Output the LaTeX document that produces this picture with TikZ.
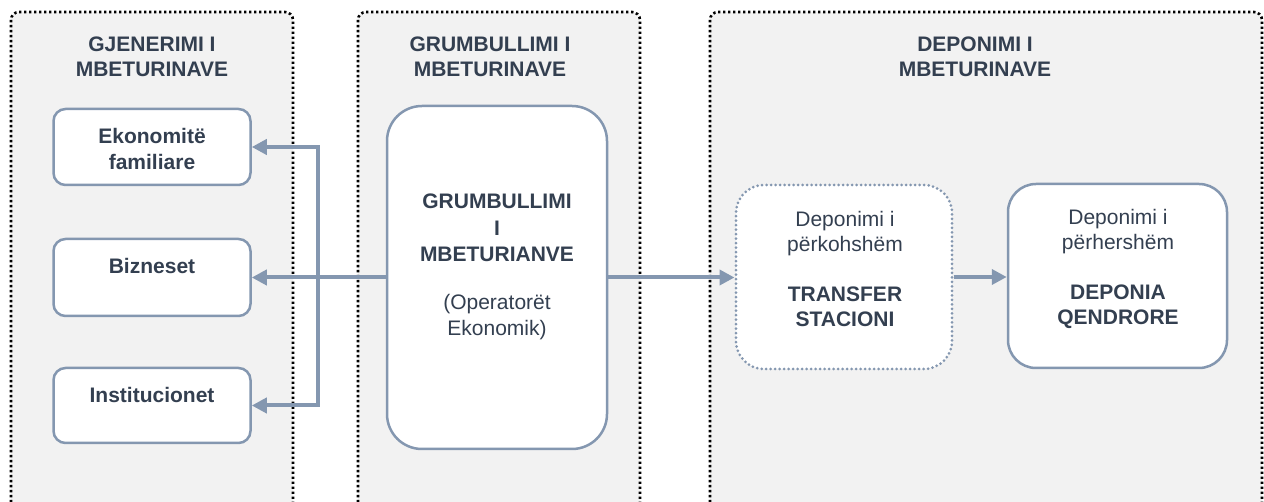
\documentclass[tikz,border=0pt]{standalone}
\usepackage{fontspec}
\setmainfont{Liberation Sans}
\usetikzlibrary{arrows.meta}
\definecolor{txtc}{HTML}{333F50}
\definecolor{bordc}{HTML}{8497B0}
\definecolor{panelc}{HTML}{F2F2F2}
\newcommand\mytab[1]{\begin{tabular}[t]{@{}c@{}}#1\end{tabular}}
\begin{document}
\begin{tikzpicture}[x=1pt,y=-1pt,
  panel/.style={draw=black, fill=panelc, line width=2.6pt, dash pattern=on 2.4pt off 2.6pt, rounded corners=8pt},
  box/.style={draw=bordc, fill=white, line width=2.5pt, rectangle, inner sep=0pt},
  dotbox/.style={draw=bordc, fill=white, line width=3pt, rectangle, inner sep=0pt, dash pattern=on 0pt off 4.5pt, line cap=round},
  txt/.style={text=txtc, inner sep=0pt, anchor=base, font=\fontsize{21}{25}\selectfont},
  txtb/.style={txt, font=\fontsize{21}{25}\selectfont\bfseries},
  arr/.style={draw=bordc, line width=4pt, -{Triangle[length=15pt,width=15pt]}}]
\clip (0,0) rectangle (1264,502);
\fill[white] (0,0) rectangle (1264,502);
% panels
\draw[panel] (11,12) rectangle (293,512);
\draw[panel] (358,12) rectangle (640,512);
\draw[panel] (710,12) rectangle (1262,512);
% panel titles
\node[txtb] (t1) at (152,52) {\mytab{GJENERIMI I\\MBETURINAVE}};
\node[txtb] (t2) at (490,52) {\mytab{GRUMBULLIMI I\\MBETURINAVE}};
\node[txtb] (t3) at (975,52) {\mytab{DEPONIMI I\\MBETURINAVE}};
% boxes
\node[box, rounded corners=12pt, minimum width=197pt, minimum height=76pt] (eko) at (152,147) {};
\node[box, rounded corners=12pt, minimum width=197pt, minimum height=77pt] (biz) at (152,277.5) {};
\node[box, rounded corners=12pt, minimum width=197pt, minimum height=75pt] (inst) at (152,405.5) {};
\node[box, rounded corners=35pt, minimum width=220pt, minimum height=343pt] (big) at (497,277.5) {};
\node[dotbox, rounded corners=28pt, minimum width=216pt, minimum height=184pt] (tr) at (844,277) {};
\node[box, rounded corners=28pt, minimum width=219pt, minimum height=184pt] (dep) at (1117.5,276) {};
% box texts
\node[txtb, font=\fontsize{21}{26}\selectfont\bfseries] (ekoT) at (152,144) {\mytab{Ekonomitë\\familiare}};
\node[txtb] (bizT) at (152,274) {Bizneset};
\node[txtb] (instT) at (152,403) {Institucionet};
\node[txtb, font=\fontsize{21}{26.5}\selectfont\bfseries] (bigT) at (497,209) {\mytab{GRUMBULLIMI\\I\\MBETURIANVE}};
\node[txt, font=\fontsize{21}{26}\selectfont] (bigS) at (497,310) {\mytab{(Operatorët\\Ekonomik)}};
\node[txt] (trT) at (845,227) {\mytab{Deponimi i\\përkohshëm\\ \\\textbf{TRANSFER}\\\textbf{STACIONI}}};
\node[txt] (depT) at (1118,225) {\mytab{Deponimi i\\përhershëm\\ \\\textbf{DEPONIA}\\\textbf{QENDRORE}}};
% connectors
\coordinate (j) at (318,277.5);
\draw[arr] (big.west) -- (biz.east);
\draw[arr] (j) |- (eko.east);
\draw[arr] (j) |- (inst.east);
\draw[arr] (big.east) -- (big.east -| tr.west);
\draw[arr] (tr.east) -- (tr.east -| dep.west);
\end{tikzpicture}
\end{document}
